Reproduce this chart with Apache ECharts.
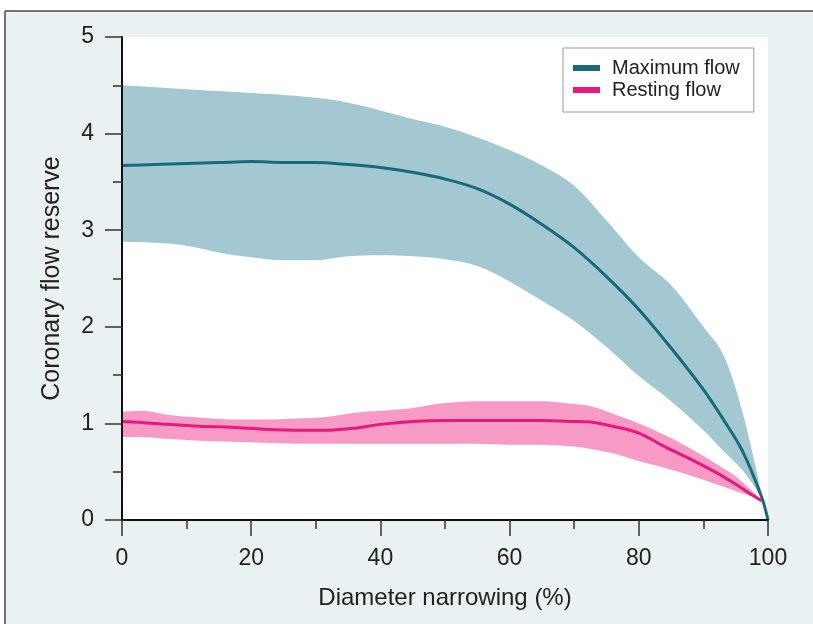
<!DOCTYPE html>
<html><head><meta charset="utf-8">
<script src="https://cdn.jsdelivr.net/npm/echarts@6/dist/echarts.min.js"></script>
<style>html,body{margin:0;padding:0;background:#fff}#c{width:813px;height:624px}</style>
</head><body><div id="c"></div>
<script>
// tick labels
const xTicks = [0, 20, 40, 60, 80, 100];
const yTicks = [0, 1, 2, 3, 4, 5];

// Maximum flow (mean line and band)
const maxX     = [0, 5, 10, 15, 20, 25, 30, 35, 40, 45, 50, 55, 60, 65, 70, 75, 80, 85, 90, 93, 96, 99, 100];
const maxUpper = [4.50, 4.48, 4.46, 4.44, 4.42, 4.40, 4.37, 4.32, 4.24, 4.15, 4.07, 3.96, 3.83, 3.67, 3.46, 3.10, 2.72, 2.43, 2.00, 1.72, 1.13, 0.28, 0.0];
const maxLower = [2.88, 2.87, 2.84, 2.77, 2.72, 2.69, 2.69, 2.73, 2.74, 2.73, 2.70, 2.63, 2.47, 2.27, 2.06, 1.79, 1.49, 1.23, 0.93, 0.72, 0.52, 0.22, 0.0];
const maxMean  = [3.67, 3.68, 3.69, 3.70, 3.71, 3.70, 3.70, 3.68, 3.65, 3.60, 3.53, 3.43, 3.27, 3.06, 2.82, 2.52, 2.18, 1.78, 1.35, 1.05, 0.72, 0.24, 0.0];

// Resting flow (mean line and band)
const restX     = [0, 3, 7, 12, 17, 22, 27, 32, 36, 40, 45, 50, 55, 60, 65, 70, 73, 76, 80, 84, 88, 92, 95, 98, 99];
const restUpper = [1.12, 1.13, 1.09, 1.06, 1.04, 1.04, 1.05, 1.07, 1.11, 1.13, 1.16, 1.21, 1.23, 1.23, 1.23, 1.20, 1.17, 1.10, 1.00, 0.88, 0.74, 0.58, 0.45, 0.27, 0.20];
const restMean  = [1.02, 1.01, 0.99, 0.97, 0.96, 0.94, 0.93, 0.93, 0.95, 0.99, 1.02, 1.03, 1.03, 1.03, 1.03, 1.02, 1.01, 0.97, 0.90, 0.76, 0.63, 0.49, 0.37, 0.24, 0.20];
const restLower = [0.86, 0.86, 0.84, 0.82, 0.81, 0.80, 0.79, 0.79, 0.79, 0.79, 0.79, 0.79, 0.79, 0.78, 0.78, 0.76, 0.73, 0.69, 0.61, 0.54, 0.46, 0.37, 0.30, 0.23, 0.20];

const pairs = (xs, ys) => xs.map((x, i) => [x, ys[i]]);

const TEAL_BAND = '#a3c8d2', TEAL_LINE = '#17697b';
const PINK_BAND = '#f79ac5', PINK_LINE = '#e8187c';
const FONT = 'Liberation Sans, Arial, sans-serif';
const SMOOTH = 0.35;

function area(name, xs, ys, fill, z) {
  return {
    name: name, type: 'line', data: pairs(xs, ys), smooth: SMOOTH,
    symbol: 'none', silent: true, z: z,
    lineStyle: { width: 0, opacity: 0 },
    areaStyle: { color: fill, opacity: 1 },
    emphasis: { disabled: true }
  };
}
function line(name, xs, ys, color, z) {
  return {
    name: name, type: 'line', data: pairs(xs, ys), smooth: SMOOTH,
    symbol: 'none', z: z,
    itemStyle: { color: color },
    lineStyle: { width: 3, color: color },
    emphasis: { disabled: true }
  };
}

const chart = echarts.init(document.getElementById('c'), null, { renderer: 'canvas' });
chart.setOption({
  animation: false,
  backgroundColor: '#ffffff',
  graphic: [
    { type: 'rect', z: -100, silent: true,
      shape: { x: 5, y: 11, width: 808, height: 613 },
      style: { fill: '#e9f1f3' } },
    { type: 'line', z: -99, silent: true,
      shape: { x1: 5, y1: 11, x2: 813, y2: 11 },
      style: { stroke: '#4a4a4a', lineWidth: 1.5 } },
    { type: 'line', z: -99, silent: true,
      shape: { x1: 5, y1: 11, x2: 5, y2: 624 },
      style: { stroke: '#4a4a4a', lineWidth: 1.5 } }
  ],
  grid: {
    left: 122, right: 45, top: 37, bottom: 104,
    show: true, backgroundColor: '#ffffff', borderWidth: 0
  },
  legend: {
    left: 563, top: 48, orient: 'vertical',
    data: [{ name: 'Maximum flow', icon: 'rect' }, { name: 'Resting flow', icon: 'rect' }],
    itemWidth: 27, itemHeight: 6, itemGap: 2,
    padding: [10, 14, 12, 10],
    backgroundColor: '#ffffff', borderColor: '#9a9a9a', borderWidth: 1,
    selectedMode: false,
    textStyle: { fontFamily: FONT, fontSize: 20, lineHeight: 20, color: '#222', padding: [0, 0, 0, 7] }
  },
  xAxis: {
    type: 'value', min: xTicks[0], max: xTicks[xTicks.length - 1], interval: xTicks[1] - xTicks[0],
    name: 'Diameter narrowing (%)', nameLocation: 'middle', nameGap: 66,
    nameTextStyle: { fontFamily: FONT, fontSize: 24, color: '#222' },
    axisLine: { show: true, onZero: false, lineStyle: { color: '#111', width: 2 } },
    axisTick: { show: true, inside: false, length: 16, lineStyle: { color: '#333', width: 1.5 } },
    minorTick: { show: true, splitNumber: 2, length: 9, lineStyle: { color: '#333', width: 1.5 } },
    splitLine: { show: false },
    axisLabel: { fontFamily: FONT, fontSize: 23, color: '#222', margin: 27 },
    z: 10
  },
  yAxis: {
    type: 'value', min: yTicks[0], max: yTicks[yTicks.length - 1], interval: yTicks[1] - yTicks[0],
    name: 'Coronary flow reserve', nameLocation: 'middle', nameGap: 57,
    nameTextStyle: { fontFamily: FONT, fontSize: 25, color: '#222' },
    axisLine: { show: true, onZero: false, lineStyle: { color: '#111', width: 2 } },
    axisTick: { show: true, inside: false, length: 17, lineStyle: { color: '#333', width: 1.5 } },
    minorTick: { show: true, splitNumber: 2, length: 9, lineStyle: { color: '#333', width: 1.5 } },
    splitLine: { show: false },
    axisLabel: { fontFamily: FONT, fontSize: 23, color: '#222', margin: 28 },
    z: 10
  },
  series: [
    area('maxUpperArea', maxX, maxUpper, TEAL_BAND, 1),
    area('maxLowerArea', maxX, maxLower, '#ffffff', 2),
    area('restUpperArea', restX, restUpper, PINK_BAND, 3),
    area('restLowerArea', restX, restLower, '#ffffff', 4),
    line('Maximum flow', maxX, maxMean, TEAL_LINE, 6),
    line('Resting flow', restX, restMean, PINK_LINE, 7)
  ]
});
</script></body></html>
